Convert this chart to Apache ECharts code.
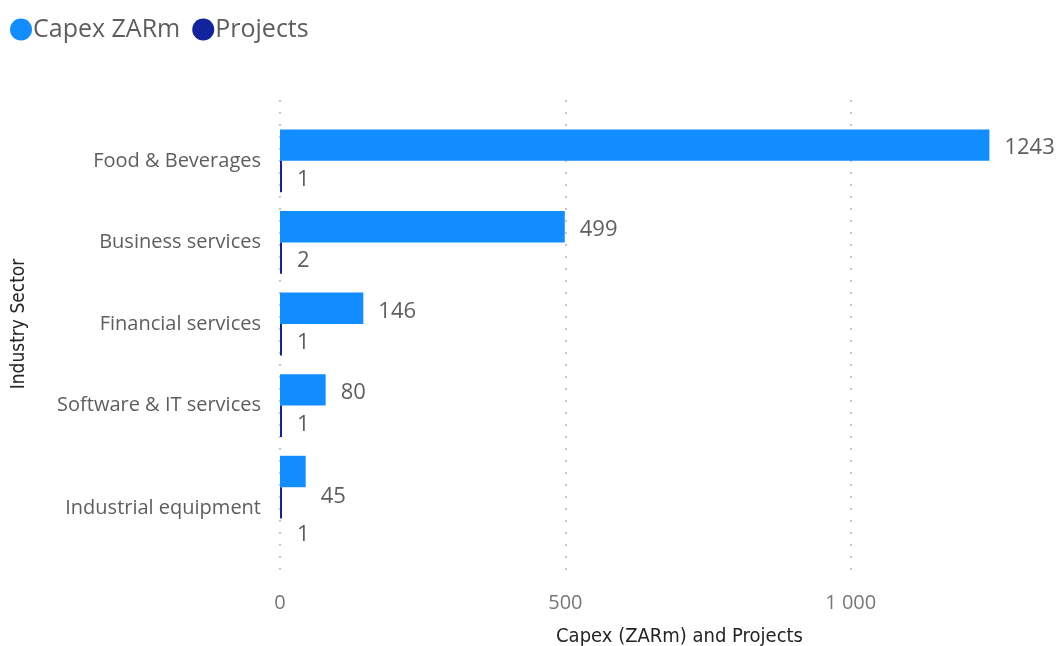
<!DOCTYPE html>
<html>
<head>
<meta charset="utf-8">
<script src="https://cdn.jsdelivr.net/npm/echarts@6/dist/echarts.min.js"></script>
<style>
  html, body { margin: 0; padding: 0; background: #ffffff; }
  #chart { width: 1059px; height: 646px; }
</style>
</head>
<body>
<div id="chart"></div>
<script>
// Sector breakdown: capital expenditure (ZARm) and project counts
const categories = ['Food & Beverages', 'Business services', 'Financial services', 'Software & IT services', 'Industrial equipment'];
const capexValues = [1243, 499, 146, 80, 45];
const projectValues = [1, 2, 1, 1, 1];
const xTickValues = [0, 500, 1000];

const CAPEX_COLOR = '#118DFF';
const PROJECT_COLOR = '#12239E';
const LABEL_GRAY = '#605E5C';
const FONT = '"Open Sans", "Noto Sans", sans-serif';
const TITLE_FONT = '"DejaVu Sans Condensed", "DejaVu Sans", sans-serif';

// the last row's labels sit a little lower to stay clear of each other
const lastIdx = categories.length - 1;
const capexData = capexValues.map((v, i) => i === lastIdx
  ? { value: v, label: { offset: [0, 25] } } : v);
const projectData = projectValues.map((v, i) => i === lastIdx
  ? { value: v, label: { offset: [0, 32] } } : v);

const fmtThousands = v => String(v).replace(/\B(?=(\d{3})+(?!\d))/g, '\u00a0');

const chart = echarts.init(document.getElementById('chart'), null, { renderer: 'canvas' });

const valueLabel = {
  show: true,
  position: 'right',
  distance: 15,
  offset: [0, 3],
  fontFamily: FONT,
  fontSize: 22,
  color: LABEL_GRAY
};

const option = {
  backgroundColor: '#ffffff',
  animation: false,
  legend: {
    left: 5,
    top: 12,
    icon: 'circle',
    itemWidth: 22,
    itemHeight: 22,
    itemGap: 12,
    textStyle: { fontFamily: FONT, fontSize: 25, color: LABEL_GRAY, padding: [0, 0, 0, -4] },
    data: ['Capex ZARm', 'Projects']
  },
  grid: [
    // frame for the value axis and its dotted gridlines
    { left: 280, right: -20, top: 100, bottom: 70, outerBoundsMode: 'none', containLabel: false },
    // frame for the bars
    { left: 280, right: -20, top: 120, height: 408, outerBoundsMode: 'none', containLabel: false }
  ],
  xAxis: [
    {
      gridIndex: 0,
      type: 'value',
      min: 0,
      max: 1400,
      interval: 500,
      name: 'Capex (ZARm) and Projects',
      nameLocation: 'middle',
      nameGap: 51,
      nameMoveOverlap: false,
      nameTextStyle: { fontFamily: TITLE_FONT, fontSize: 20, color: '#252423' },
      axisLine: { show: false },
      axisTick: { show: false },
      axisLabel: {
        showMaxLabel: false,
        margin: 17,
        fontFamily: FONT,
        fontSize: 20,
        color: '#777777',
        formatter: v => xTickValues.includes(v) ? fmtThousands(v) : ''
      },
      splitLine: { show: true, lineStyle: { color: '#C8C6C4', width: 2, type: [2, 10] } }
    },
    {
      gridIndex: 1,
      type: 'value',
      min: 0,
      max: 1400,
      interval: 500,
      show: false,
      splitLine: { show: false }
    }
  ],
  yAxis: [
    { gridIndex: 0, type: 'value', show: false, min: 0, max: 1, splitLine: { show: false } },
    {
      gridIndex: 1,
      type: 'category',
      inverse: true,
      data: categories,
      name: 'Industry Sector',
      nameLocation: 'middle',
      nameGap: 251,
      nameRotate: 90,
      nameMoveOverlap: false,
      nameTextStyle: { fontFamily: TITLE_FONT, fontSize: 19, color: '#252423' },
      axisLine: { show: false },
      axisTick: { show: false },
      axisLabel: {
        margin: 19,
        fontFamily: FONT,
        fontSize: 20,
        color: LABEL_GRAY,
        lineHeight: 42,
        padding: [2, 0, 0, 0],
        formatter: (v, i) => i === lastIdx ? '\n' + v : v
      },
      splitLine: { show: false }
    }
  ],
  series: [
    {
      name: 'Capex ZARm',
      type: 'bar',
      xAxisIndex: 1,
      yAxisIndex: 1,
      data: capexData,
      itemStyle: { color: CAPEX_COLOR },
      barGap: '0%',
      barCategoryGap: '23%',
      label: valueLabel
    },
    {
      name: 'Projects',
      type: 'bar',
      xAxisIndex: 1,
      yAxisIndex: 1,
      data: projectData,
      itemStyle: { color: PROJECT_COLOR },
      barMinHeight: 2,
      barGap: '0%',
      barCategoryGap: '23%',
      label: valueLabel
    }
  ]
};

chart.setOption(option);
</script>
</body>
</html>
